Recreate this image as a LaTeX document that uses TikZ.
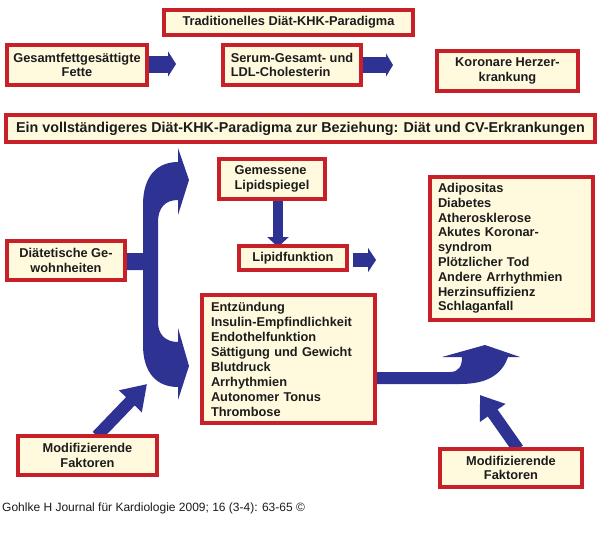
\documentclass[tikz,border=0pt]{standalone}
\usepackage{fontspec}
\setmainfont{Liberation Sans}
\usetikzlibrary{arrows.meta}
\pgfdeclarelayer{bg}
\pgfsetlayers{bg,main}
\definecolor{boxred}{RGB}{200,32,40}
\definecolor{boxfill}{RGB}{255,250,222}
\definecolor{arrblue}{RGB}{46,50,146}
\definecolor{txt}{RGB}{28,28,28}
\tikzset{
  bx/.style={draw=boxred, fill=boxfill, line width=4pt, inner sep=0pt, text=txt,
    font=\bfseries\fontsize{12.8}{14.5}\selectfont, align=center},
  listbx/.style={bx, align=left, font=\bfseries\fontsize{12.8}{15}\selectfont},
  blkarrow/.style={draw=arrblue, line width=#1},
}
\begin{document}
\begin{tikzpicture}[x=1pt,y=-1pt]
\useasboundingbox (0,0) rectangle (600,558);

% boxes
\node[bx, minimum width=249pt, minimum height=25pt] (t1) at (288.5,22.5) {Traditionelles Diät-KHK-Paradigma};
\node[bx, minimum width=140pt, minimum height=40pt] (gf) at (77,65) {Gesamtfettgesättigte\\Fette};
\node[bx, align=left, minimum width=138pt, minimum height=40pt] (serum) at (292,65) {Serum-Gesamt- und\\LDL-Cholesterin};
\node[bx, minimum width=141pt, minimum height=40pt] (kor) at (507.5,71) {Koronare Herzer-\\krankung};
\node[bx, minimum width=589pt, minimum height=27pt, font=\bfseries\fontsize{14.3}{16}\selectfont] (t2) at (300.5,128.5) {Ein vollständigeres Diät-KHK-Paradigma zur Beziehung: Diät und CV-Erkrankungen};
\node[bx, align=left, minimum width=106pt, minimum height=40pt] (gem) at (272,179) {Gemessene\\Lipidspiegel};
\node[bx, minimum width=108pt, minimum height=24pt] (lip) at (293,258) {Lipidfunktion};
\node[bx, minimum width=118pt, minimum height=39pt] (diet) at (66,260.5) {Diätetische Ge-\\wohnheiten};
\node[listbx, text width=147pt, inner xsep=8pt, minimum height=143pt, font=\bfseries\fontsize{12.8}{14.8}\selectfont] (dis) at (511.5,248.5) {Adipositas\\Diabetes\\Atherosklerose\\Akutes Koronar-\\syndrom\\Plötzlicher Tod\\Andere Arrhythmien\\Herzinsuffizienz\\Schlaganfall};
\node[listbx, text width=155pt, inner xsep=9pt, minimum height=128pt] (ent) at (288.5,359) {Entzündung\\Insulin-Empfindlichkeit\\Endothelfunktion\\Sättigung und Gewicht\\Blutdruck\\Arrhythmien\\Autonomer Tonus\\Thrombose};
\node[bx, minimum width=139pt, minimum height=39pt] (modL) at (87.5,455.5) {Modifizierende\\Faktoren};
\node[bx, minimum width=142pt, minimum height=38pt] (modR) at (511,468) {Modifizierende\\Faktoren};

\node[anchor=west, inner sep=0pt, text=txt, font=\fontsize{12}{14}\selectfont] (foot) at (2,508) {Gohlke H Journal für Kardiologie 2009; 16 (3-4): 63-65 ©};

% arrow end points
\coordinate (a1) at (176,64);
\coordinate (a2) at (393,65);
\coordinate (a3) at (278,247);
\coordinate (a4) at (376,260);
\coordinate (a5) at (147,384);
\coordinate (a6) at (480,395);

\begin{pgfonlayer}{bg}
  \fill[white] (0,0) rectangle (600,558);
  \draw[blkarrow=17pt, -{Triangle[length=8pt,width=25pt]}] (gf.east |- a1) -- (a1);
  \draw[blkarrow=16pt, -{Triangle[length=7pt,width=23pt]}] (serum.east |- a2) -- (a2);
  \draw[blkarrow=10pt, -{Triangle[length=10pt,width=21pt]}] (gem.south -| a3) -- (a3);
  \draw[blkarrow=14pt, -{Triangle[length=8pt,width=24pt]}] ([xshift=4pt]lip.east |- a4) -- (a4);
  \draw[blkarrow=12pt, -{Triangle[length=24pt,width=30pt]}] (97,436) -- (a5);
  \draw[blkarrow=12pt, -{Triangle[length=22pt,width=30pt]}] (518,449) -- (a6);
  % bracket from dietary habits
  \fill[arrblue] (125,253) -- (143,253) -- (143,205)
    .. controls (143,175) and (158,162) .. (178,162)
    -- (178,148) -- (189,180) -- (178,215) -- (178,200)
    .. controls (165,200) and (158,208) .. (158,222)
    -- (158,322)
    .. controls (158,334) and (165,342) .. (178,342)
    -- (178,328) -- (189,366) -- (178,400) -- (178,387)
    .. controls (156,387) and (143,372) .. (143,345)
    -- (143,270) -- (125,270) -- cycle;
  % curved arrow to diseases
  \fill[arrblue] (375,372) -- (450,372)
    .. controls (459,372) and (462,366) .. (462,357)
    -- (442,357) -- (485,345) -- (520,357) -- (508,357)
    .. controls (502,374) and (488,384) .. (460,384)
    -- (375,384) -- cycle;
\end{pgfonlayer}
\end{tikzpicture}
\end{document}
